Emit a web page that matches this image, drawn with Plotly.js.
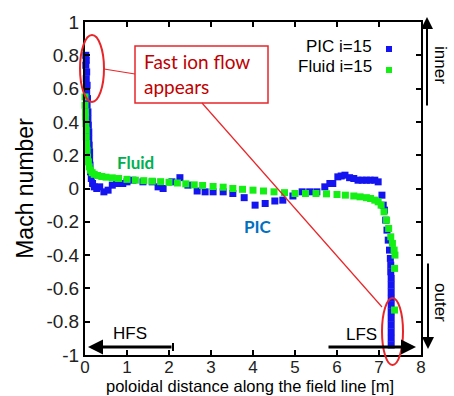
<!DOCTYPE html>
<html>
<head>
<meta charset="utf-8">
<script src="https://cdn.plot.ly/plotly-3.0.1.min.js"></script>
<style>html,body{margin:0;padding:0;background:#fff;}#chart{width:454px;height:396px;}</style>
</head>
<body>
<div id="chart"></div>
<script>
// ---- data ----
const picX = [0.02,0.03,0.02,0.04,0.03,0.05,0.04,0.06,0.05,0.07,0.07,0.08,0.09,0.09,0.10,0.11,0.11,0.12,0.13,0.15,0.18,0.22,0.28,0.35,0.45,0.55,0.65,0.75,0.9,1.0,1.14,1.38,1.6,1.74,1.86,2.07,2.26,2.45,2.67,2.86,3.05,3.29,3.52,3.79,4.05,4.29,4.52,4.71,4.95,5.17,5.35,5.52,5.71,5.83,5.9,6.02,6.1,6.19,6.3,6.4,6.5,6.6,6.7,6.79,6.9,6.98,7.07,7.1,7.13,7.16,7.19,7.22,7.25,7.27,7.28,7.28,7.29,7.29,7.29,7.29,7.29,7.29,7.29,7.29,7.29,7.29,7.29];
const picY = [0.80,0.77,0.74,0.70,0.66,0.62,0.58,0.54,0.50,0.46,0.42,0.38,0.34,0.30,0.26,0.22,0.18,0.14,0.10,0.06,0.03,0.01,0.0,0.01,-0.02,-0.01,0.02,0.03,0.03,0.04,0.05,0.04,0.04,0.01,0.0,0.04,0.065,0.02,-0.015,-0.02,-0.02,-0.02,-0.03,-0.055,-0.10,-0.09,-0.075,-0.07,-0.045,-0.02,-0.02,-0.02,0.01,0.03,0.03,0.07,0.075,0.08,0.065,0.06,0.05,0.05,0.05,0.05,0.05,0.04,-0.04,-0.10,-0.13,-0.19,-0.25,-0.31,-0.37,-0.42,-0.46,-0.50,-0.54,-0.58,-0.62,-0.66,-0.70,-0.74,-0.78,-0.82,-0.86,-0.90,-0.94];

const fluidX = [0.0,0.0,0.01,0.01,0.02,0.03,0.03,0.04,0.05,0.06,0.08,0.10,0.13,0.17,0.22,0.30,0.40,0.50,0.65,0.80,1.0,1.2,1.4,1.6,1.8,2.0,2.2,2.4,2.6,2.8,3.05,3.29,3.52,3.75,4.0,4.25,4.5,4.75,5.0,5.25,5.5,5.75,6.0,6.2,6.4,6.55,6.7,6.8,6.9,6.98,7.05,7.12,7.18,7.23,7.28,7.32,7.36,7.38,7.37,7.37];
const fluidY = [0.55,0.50,0.46,0.43,0.39,0.35,0.31,0.27,0.23,0.19,0.16,0.13,0.11,0.095,0.085,0.078,0.072,0.068,0.064,0.060,0.055,0.050,0.047,0.044,0.041,0.037,0.033,0.028,0.022,0.018,0.012,0.008,0.0,-0.005,-0.01,-0.015,-0.02,-0.025,-0.03,-0.03,-0.03,-0.032,-0.036,-0.04,-0.045,-0.05,-0.055,-0.06,-0.07,-0.08,-0.10,-0.14,-0.19,-0.24,-0.29,-0.33,-0.37,-0.40,-0.48,-0.73];

const xTickVals = [0,1,2,3,4,5,6,7,8];
const xTickText = ['0','1','2','3','4','5','6','7','8'];
const yTickVals = [1,0.8,0.6,0.4,0.2,0,-0.2,-0.4,-0.6,-0.8,-1];
const yTickText = ['1','0.8','0.6','0.4','0.2','0','-0.2','-0.4','-0.6','-0.8','-1'];

const seriesNames = ['PIC i=15','Fluid i=15'];
const seriesColors = ['#1414f0','#14f014'];

// ---- layout geometry ----
const W = 454, H = 396;
const M = {l:85, r:33, t:22, b:41};
const PW = W - M.l - M.r, PH = H - M.t - M.b;
function px(x){ return (x - M.l) / PW; }
function py(y){ return (H - M.b - y) / PH; }

const sansArial = 'Liberation Sans, Arial, sans-serif';
const sansCal = 'Lato, Open Sans, sans-serif';
const red = '#e8262a';

const traces = [
  {x: picX, y: picY, type:'scatter', mode:'markers', name: seriesNames[0],
   marker:{symbol:'square', size:7, color: seriesColors[0]}, cliponaxis:false},
  {x: fluidX, y: fluidY, type:'scatter', mode:'markers', name: seriesNames[1],
   marker:{symbol:'square', size:7, color: seriesColors[1]}, cliponaxis:false}
];

function txt(x, y, text, font, extra){
  return Object.assign({xref:'paper', yref:'paper', x:px(x), y:py(y), xanchor:'center', yanchor:'middle',
    showarrow:false, text:text, font:font}, extra || {});
}
const f17 = {family:sansArial, size:17, color:'#000'};

const annotations = [
  txt(142, 74, 'Fast ion flow<br>appears', {family:sansCal, size:19, color:'#c00000'}, {xanchor:'left', align:'left'}),
  txt(135, 162, '<b>Fluid</b>', {family:sansCal, size:17, color:'#00b050'}),
  txt(258, 226, '<b>PIC</b>', {family:sansCal, size:17, color:'#0070c0'}),
  txt(374, 46, seriesNames[0], f17, {xanchor:'right'}),
  txt(374, 67, seriesNames[1], f17, {xanchor:'right'}),
  txt(130, 333, 'HFS', f17),
  txt(361, 334, 'LFS', f17),
  txt(441, 65, 'inner', f17, {textangle:90}),
  txt(441, 302, 'outer', f17, {textangle:90}),
  // x-axis title (placed below tick labels)
  txt(250, 386, 'poloidal distance along the field line [m]', {family:sansArial, size:16.5, color:'#000'}, {borderpad:0}),
  // arrows
  {xref:'paper', yref:'paper', x:px(427), y:py(17), ax:0, ay:90, text:'', showarrow:true, arrowhead:2, arrowsize:1.2, arrowwidth:2, arrowcolor:'#000'},
  {xref:'paper', yref:'paper', x:px(428), y:py(349), ax:0, ay:-87, text:'', showarrow:true, arrowhead:2, arrowsize:1.2, arrowwidth:2, arrowcolor:'#000'},
  {xref:'paper', yref:'paper', x:px(88), y:py(347), ax:85, ay:0, text:'', showarrow:true, arrowhead:2, arrowsize:1, arrowwidth:3, arrowcolor:'#000'},
  {xref:'paper', yref:'paper', x:px(416), y:py(347), ax:-89, ay:0, text:'', showarrow:true, arrowhead:2, arrowsize:1, arrowwidth:3, arrowcolor:'#000'}
];

const shapes = [
  {type:'rect', xref:'paper', yref:'paper', x0:px(135), x1:px(268), y0:py(103), y1:py(46), line:{color:red, width:1.5}, fillcolor:'#fff', layer:'above'},
  {type:'line', xref:'paper', yref:'paper', x0:px(104), y0:py(69), x1:px(135), y1:py(74), line:{color:red, width:1.2}},
  {type:'line', xref:'paper', yref:'paper', x0:px(202), y0:py(103), x1:px(382), y1:py(307), line:{color:red, width:1.2}},
  {type:'circle', xref:'paper', yref:'paper', x0:px(80), x1:px(104), y0:py(102), y1:py(35), line:{color:red, width:2}},
  {type:'circle', xref:'paper', yref:'paper', x0:px(382), x1:px(403), y0:py(365), y1:py(298), line:{color:red, width:2}},
  {type:'rect', xref:'paper', yref:'paper', x0:px(386), x1:px(392), y0:py(52), y1:py(46), line:{width:0}, fillcolor:seriesColors[0]},
  {type:'rect', xref:'paper', yref:'paper', x0:px(386), x1:px(392), y0:py(73), y1:py(67), line:{width:0}, fillcolor:seriesColors[1]},
  {type:'line', xref:'paper', yref:'paper', x0:px(173), x1:px(173), y0:py(343), y1:py(351), line:{color:'#000', width:2}}
];

const axisCommon = {
  showline:true, linecolor:'#000', linewidth:2, mirror:'ticks',
  ticks:'inside', ticklen:5, tickwidth:2, tickcolor:'#000',
  showgrid:false, zeroline:false, tickmode:'array',
  tickfont:{family:sansArial, size:19, color:'#222'}
};

const layout = {
  width:W, height:H, margin:M, showlegend:false,
  paper_bgcolor:'#fff', plot_bgcolor:'#fff',
  xaxis: Object.assign({}, axisCommon, {range:[0,8], tickvals:xTickVals, ticktext:xTickText,
    tickfont:{family:sansArial, size:17, color:'#222'}, ticklabelstandoff:-4}),
  yaxis: Object.assign({}, axisCommon, {range:[-1,1], tickvals:yTickVals, ticktext:yTickText,
    title:{text:'Mach number', font:{family:sansArial, size:23, color:'#000'}, standoff:6}}),
  annotations: annotations,
  shapes: shapes
};

Plotly.newPlot('chart', traces, layout, {displayModeBar:false, staticPlot:true});
</script>
</body>
</html>
